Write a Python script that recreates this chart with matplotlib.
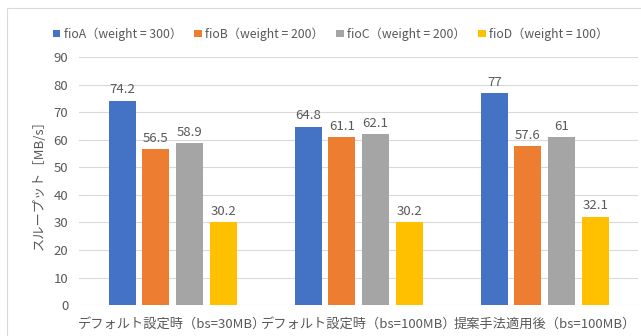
import numpy as np
import matplotlib
matplotlib.use("Agg")
import matplotlib.pyplot as plt
from matplotlib.patches import Rectangle

plt.rcParams['font.family'] = ['Noto Sans CJK JP', 'DejaVu Sans']

categories = ["デフォルト設定時（bs=30MB）", "デフォルト設定時（bs=100MB）", "提案手法適用後（bs=100MB）"]
series_names = ["fioA（weight = 300）", "fioB（weight = 200）", "fioC（weight = 200）", "fioD（weight = 100）"]
fioA = [74.2, 64.8, 77]
fioB = [56.5, 61.1, 57.6]
fioC = [58.9, 62.1, 61]
fioD = [30.2, 30.2, 32.1]
colors = ["#4472C4", "#ED7D31", "#A5A5A5", "#FFC000"]
text_color = "#595959"

fig = plt.figure(figsize=(6.41, 3.36), dpi=100)
ax = fig.add_axes([0.124, 0.092, 0.871, 0.738])

# chart-area border (cropped on right/bottom)
fig.patches.append(Rectangle((7 / 641, -0.1), 1.2, 1 - 8 / 336 + 0.1,
                             transform=fig.transFigure, fill=False,
                             edgecolor="#d9d9d9", linewidth=0.8))

x = np.arange(len(categories))
width = 0.145
step = 0.181
all_series = [fioA, fioB, fioC, fioD]
for i, vals in enumerate(all_series):
    pos = x + (i - 1.5) * step
    bars = ax.bar(pos, vals, width, color=colors[i], label=series_names[i], zorder=3)
    for b, v in zip(bars, vals):
        ax.annotate(f"{v:g}", (b.get_x() + b.get_width() / 2, v),
                    xytext=(0, 3), textcoords="offset points",
                    ha="center", va="bottom", fontsize=9.5, color=text_color)

ax.set_xlim(-0.5, 2.5)
ax.set_ylim(0, 90)
ax.set_yticks(range(0, 91, 10))
ax.set_xticks(x)
ax.set_xticklabels(categories, fontsize=9.5, color=text_color)
ax.tick_params(axis='both', length=0, labelsize=9.5, labelcolor=text_color)
ax.tick_params(axis='x', pad=9)
ax.tick_params(axis='y', pad=8)
ax.grid(axis='y', color="#d9d9d9", linewidth=0.8, zorder=0)
for s in ax.spines.values():
    s.set_visible(False)

ax.set_ylabel("スループット［MB/s］", fontsize=9.5, color=text_color, labelpad=6)

fig.legend(loc="center", bbox_to_anchor=(0.516, 1 - 34 / 336), ncol=4, frameon=False,
           fontsize=8.8, labelcolor=text_color, handlelength=0.6, handleheight=0.6,
           handletextpad=0.3, columnspacing=1.0)

fig.savefig("out.png", dpi=100)
